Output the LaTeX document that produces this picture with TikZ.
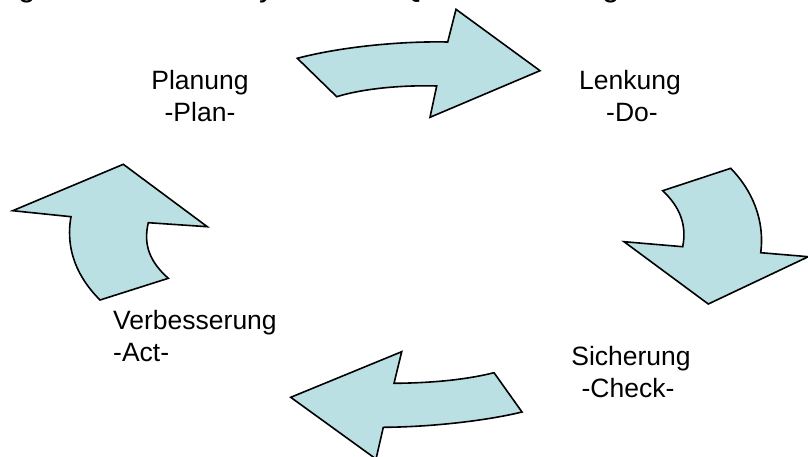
\documentclass[tikz,border=0pt]{standalone}
\usepackage{fontspec}
\setmainfont{Liberation Sans}
\definecolor{arrowfill}{RGB}{186,224,227}
\tikzset{
  x=1pt, y=-1pt,
  cyclearrow/.style={draw=black, fill=arrowfill, line width=1.6pt, line join=miter},
  lbl/.style={inner sep=0pt, anchor=base, font=\fontsize{26.5}{31}\selectfont},
  lblw/.style={lbl, anchor=base west},
  ttl/.style={inner sep=0pt, anchor=base west, font=\fontsize{31.5}{36}\selectfont}
}
\begin{document}
\begin{tikzpicture}
\useasboundingbox (0,0) rectangle (808,456);
\begin{scope}
\clip (0,0) rectangle (808,456);
\fill[white] (0,0) rectangle (808,456);
% title line, cut off by the top edge
\node[ttl] (title) at (-104.6,-4) {Abbildung 1: Der PDCA-Zyklus des Qualitätsmanagements};
% top arrow (Plan -> Do)
\draw[cyclearrow] (297.3,58.3) .. controls (340,47) and (400,41) .. (447.7,42)
  -- (456,9.3) -- (540,70.7) -- (430,117.3) -- (436.7,86)
  .. controls (405,85) and (365,88) .. (336.7,96.7) -- cycle;
% right arrow (Do -> Check)
\draw[cyclearrow] (662.7,190.7) -- (730.7,168.3)
  .. controls (752,190) and (765,220) .. (760.7,252.7)
  -- (808.3,256.7) -- (708.3,304) -- (624,241.7) -- (682.7,246.7)
  .. controls (687,225) and (680,207) .. (662.7,190.7) -- cycle;
% bottom arrow (Check -> Act)
\draw[cyclearrow] (290.7,397.3) -- (401.7,351.7) -- (394,383.3)
  .. controls (430,383) and (465,380) .. (494,372.7)
  -- (522,412) .. controls (485,421) and (430,427) .. (383.3,427.3)
  -- (376,459) -- cycle;
% left arrow (Act -> Plan)
\draw[cyclearrow] (100,300) -- (168.3,278.3)
  .. controls (150,262) and (143,245) .. (148.3,222.7)
  -- (207.3,226.7) -- (123.3,164.3) -- (12.7,210.7) -- (71,216.7)
  .. controls (65,250) and (78,278) .. (100,300) -- cycle;
\end{scope}
% labels
\node[lbl] (plan) at (200,89) {Planung};
\node[lbl] (plansub) at (200,121) {-Plan-};
\node[lbl] (do) at (630,89) {Lenkung};
\node[lbl] (dosub) at (632,121) {-Do-};
\node[lblw] (act) at (113,329) {Verbesserung};
\node[lblw] (actsub) at (113,361) {-Act-};
\node[lbl] (check) at (631,365) {Sicherung};
\node[lbl] (checksub) at (628,397) {-Check-};
\end{tikzpicture}
\end{document}
